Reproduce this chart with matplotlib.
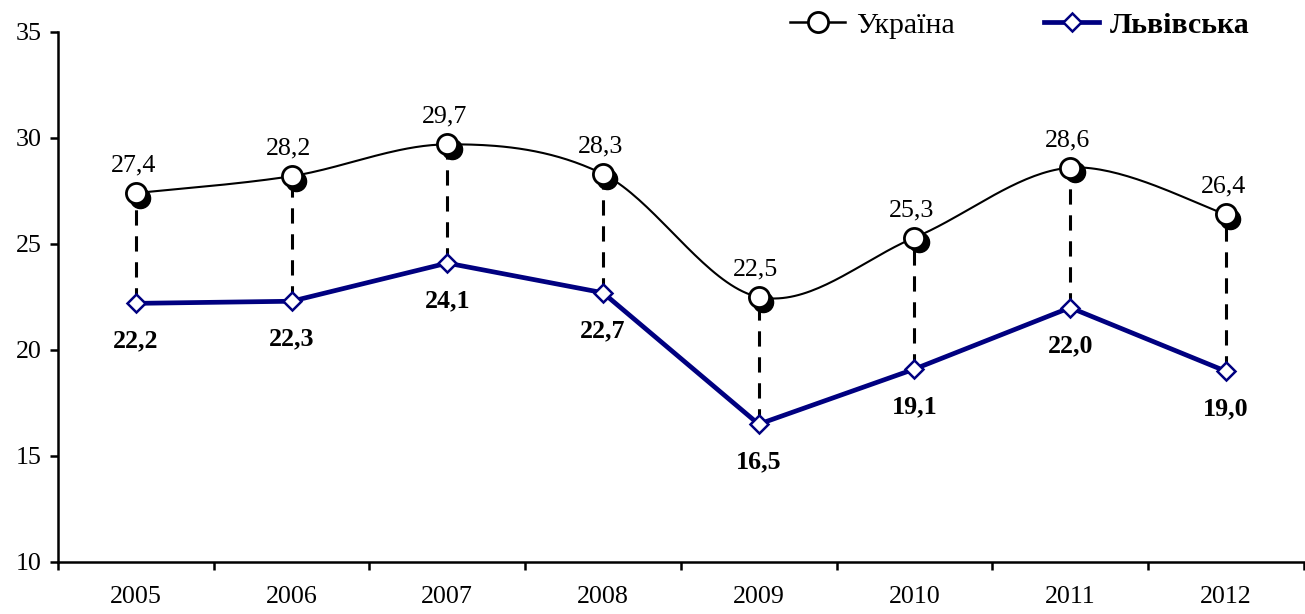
import numpy as np
import matplotlib
matplotlib.use("Agg")
import matplotlib.pyplot as plt
from matplotlib.lines import Line2D
import matplotlib.transforms as mtransforms

plt.rcParams['font.family'] = ['Liberation Serif', 'DejaVu Serif']

years = ["2005", "2006", "2007", "2008", "2009", "2010", "2011", "2012"]
ukraine = [27.4, 28.2, 29.7, 28.3, 22.5, 25.3, 28.6, 26.4]
lviv = [22.2, 22.3, 24.1, 22.7, 16.5, 19.1, 22.0, 19.0]
yticks = [10, 15, 20, 25, 30, 35]

NAVY = "#000080"
FS = 18.7
LEG_FS = 21.5


def smooth_curve(x, y, steps=40):
    """Catmull-Rom style smoothing through every point."""
    x = np.asarray(x, float)
    y = np.asarray(y, float)
    n = len(x)
    px = np.concatenate([[x[0]], x, [x[-1]]])
    py = np.concatenate([[y[0]], y, [y[-1]]])
    xs, ys = [], []
    t = np.linspace(0, 1, steps)
    for i in range(n - 1):
        p0x, p1x, p2x, p3x = px[i], px[i + 1], px[i + 2], px[i + 3]
        p0y, p1y, p2y, p3y = py[i], py[i + 1], py[i + 2], py[i + 3]
        c1x = p1x + (p2x - p0x) / 6
        c1y = p1y + (p2y - p0y) / 6
        c2x = p2x - (p3x - p1x) / 6
        c2y = p2y - (p3y - p1y) / 6
        bx = (1 - t) ** 3 * p1x + 3 * (1 - t) ** 2 * t * c1x + 3 * (1 - t) * t ** 2 * c2x + t ** 3 * p2x
        by = (1 - t) ** 3 * p1y + 3 * (1 - t) ** 2 * t * c1y + 3 * (1 - t) * t ** 2 * c2y + t ** 3 * p2y
        xs.append(bx)
        ys.append(by)
    return np.concatenate(xs), np.concatenate(ys)


fig = plt.figure(figsize=(13.05, 6.14), dpi=100)
ax = fig.add_axes([58 / 1305, 1 - 562 / 614, 1 - 58 / 1305 - 0.001, (562 - 32) / 614])

x = np.arange(len(years))

# dashed connectors between the two series
for xi, u, l in zip(x, ukraine, lviv):
    ax.plot([xi, xi], [l, u], color="black", lw=2.2, ls=(0, (5, 3.5)), zorder=2)

# Lviv region: straight segments with diamonds
ax.plot(x, lviv, color=NAVY, lw=3.4, zorder=3)
ax.plot(x, lviv, ls="none", marker="D", ms=9.5, mfc="white", mec=NAVY, mew=1.8, zorder=4)

# Ukraine: smoothed thin line, circles with a dark shadow
sx, sy = smooth_curve(x, ukraine)
ax.plot(sx, sy, color="black", lw=1.5, zorder=3)
shadow = mtransforms.offset_copy(ax.transData, fig=fig, x=4.5, y=-4.5, units="dots")
ax.plot(x, ukraine, ls="none", marker="o", ms=14.5, mfc="black", mec="black",
        transform=shadow, zorder=4)
ax.plot(x, ukraine, ls="none", marker="o", ms=14.5, mfc="white", mec="black", mew=2.0, zorder=5)

fmt = lambda v: f"{v:.1f}".replace(".", ",")
for xi, u in zip(x, ukraine):
    ax.annotate(fmt(u), (xi, u), xytext=(-2, 12), textcoords="offset points",
                ha="center", va="bottom", fontsize=FS)
for xi, l in zip(x, lviv):
    ax.annotate(fmt(l), (xi, l), xytext=(0, -19), textcoords="offset points",
                ha="center", va="top", fontsize=FS, fontweight="bold")

ax.set_xlim(-0.5, len(years) - 0.5)
ax.set_ylim(10, 35)
ax.set_yticks(yticks)
ax.set_yticklabels([str(v) for v in yticks], fontsize=FS)
ax.set_xticks(x)
ax.set_xticklabels(years, fontsize=FS)
ax.set_xticks(np.arange(-0.5, len(years)), minor=True)
ax.tick_params(axis="x", which="major", length=0, pad=17)
ax.tick_params(axis="x", which="minor", length=6, width=1.8, direction="out")
ax.tick_params(axis="y", length=6, width=1.8, direction="out", pad=6)

for side in ("top", "right"):
    ax.spines[side].set_visible(False)
for side in ("left", "bottom"):
    ax.spines[side].set_linewidth(1.8)
ax.spines["left"].set_bounds(10, 35)

handles = [
    Line2D([0], [0], color="black", lw=1.8, marker="o", ms=14.5, mfc="white", mec="black", mew=2.0),
    Line2D([0], [0], color=NAVY, lw=3.4, marker="D", ms=9.5, mfc="white", mec=NAVY, mew=1.8),
]
leg = fig.legend(handles, ["Україна", "Львівська"], loc="upper right",
                 bbox_to_anchor=(0.978, 1.025), ncol=2, frameon=False, fontsize=LEG_FS,
                 handlelength=1.85, handletextpad=0.35, columnspacing=3.0)
leg.get_texts()[1].set_fontweight("bold")

fig.savefig("out.png", dpi=100)
